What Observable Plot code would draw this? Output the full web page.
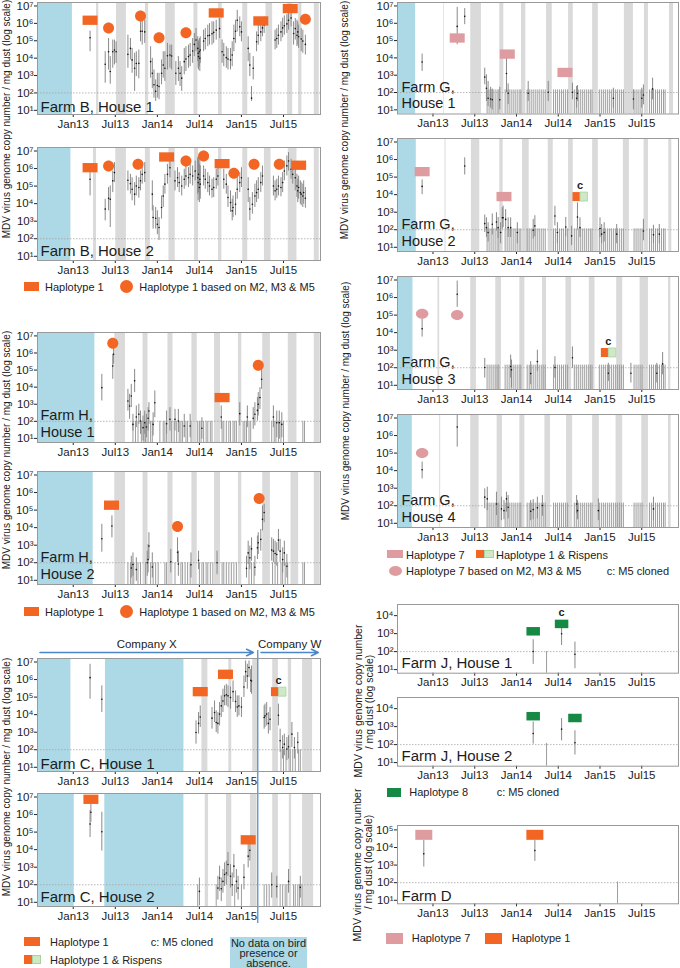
<!DOCTYPE html>
<html><head><meta charset="utf-8">
<script src="https://cdn.jsdelivr.net/npm/d3@7"></script>
<script src="https://cdn.jsdelivr.net/npm/@observablehq/plot@0.6"></script>
<style>
body{margin:0;background:#fff;}
#page{position:relative;width:680px;height:968px;overflow:hidden;font-family:'Liberation Sans',Arial,Helvetica,sans-serif;color:#222;}
.abs{position:absolute;white-space:nowrap;line-height:1;}
</style></head><body><div id="page"></div>
<script>
// ---------- shared axis data ----------
const xDomain = [2012.575, 2015.94];
const xTicks = [2013, 2013.5, 2014, 2014.5, 2015, 2015.5];
const xTickLabels = ["Jan13", "Jul13", "Jan14", "Jul14", "Jan15", "Jul15"];
const yTicks7 = [1, 2, 3, 4, 5, 6, 7];
const yTicks4 = [1, 2, 3, 4];
const yTicks5 = [1, 2, 3, 4, 5];
const detectionLimit = 2; // log10 copies / mg dust

// samples: [decimal year, log10 copies, log10 upper, log10 lower]
// ---------- Farm B ----------
const farmB1NoData = [[xDomain[0], 2012.99]];
const farmB1Absence = [[2013.277,2013.304],[2013.514,2013.632],[2013.858,2013.897],[2014.099,2014.213],[2014.435,2014.482],[2014.727,2014.771],[2015.016,2015.075],[2015.292,2015.371],[2015.549,2015.609],[2015.680,2015.719],[2015.866,2015.925]];
const farmB1Samples = [[2013.20,5.17,5.55,4.37],[2013.38,3.65,4.37,2.56],[2013.42,4.37,5.13,3.32],[2013.44,3.23,4.09,2.50],[2013.47,4.37,5.04,3.42],[2013.49,4.47,5.04,3.61],[2013.51,4.37,4.94,3.70],[2013.65,4.22,5.32,3.42],[2013.68,4.56,5.13,3.90],[2013.70,3.90,4.56,3.13],[2013.73,3.42,4.28,2.09],[2013.75,3.69,4.37,2.94],[2013.78,3.70,4.47,2.81],[2013.80,5.55,6.09,4.94],[2013.82,5.55,6.28,4.75],[2013.85,5.51,6.18,4.85],[2013.92,3.80,4.66,2.85],[2013.94,3.13,3.99,2.24],[2013.96,2.47,3.32,1.70],[2013.98,2.09,2.75,1.51],[2014.00,2.43,3.13,1.70],[2014.02,2.37,3.13,1.61],[2014.05,3.13,3.90,2.47],[2014.07,3.61,4.37,2.85],[2014.09,3.42,4.37,2.66],[2014.12,4.14,4.85,3.32],[2014.15,4.18,4.75,3.42],[2014.17,4.12,4.75,3.32],[2014.22,3.13,3.80,2.43],[2014.25,3.42,4.09,2.66],[2014.27,3.13,3.80,2.37],[2014.29,2.85,3.51,2.09],[2014.32,3.80,4.56,3.04],[2014.34,3.95,4.66,3.23],[2014.37,4.09,4.75,3.42],[2014.39,4.18,4.85,3.51],[2014.42,4.41,5.13,3.70],[2014.44,4.79,5.42,4.09],[2014.46,5.04,5.70,4.37],[2014.48,4.56,5.23,3.80],[2014.485,4.28,5.04,3.42],[2014.49,4.09,4.94,3.32],[2014.50,4.37,5.13,3.51],[2014.505,3.99,4.75,3.23],[2014.51,4.47,5.23,3.70],[2014.55,4.98,5.61,4.37],[2014.57,5.13,5.70,4.47],[2014.60,5.29,5.90,4.66],[2014.62,5.32,5.99,4.75],[2014.65,5.40,6.09,4.75],[2014.67,5.48,6.09,4.85],[2014.70,5.61,6.18,5.04],[2014.74,5.70,6.28,5.13],[2014.77,4.37,5.04,3.70],[2014.79,4.18,4.85,3.51],[2014.82,4.03,4.66,3.42],[2014.84,3.95,4.56,3.32],[2014.87,3.90,4.56,3.32],[2014.89,4.18,4.94,3.51],[2014.91,5.13,5.90,4.37],[2014.93,5.55,6.18,4.85],[2014.95,6.18,6.75,5.51],[2014.98,5.80,6.37,5.23],[2015.00,5.51,6.09,4.94],[2015.08,4.56,5.23,3.80],[2015.10,3.61,4.28,2.94],[2015.12,1.70,2.37,1.51],[2015.14,3.42,4.09,2.75],[2015.18,4.94,5.51,4.37],[2015.20,5.32,5.90,4.75],[2015.23,5.51,6.09,4.94],[2015.25,5.74,6.28,5.23],[2015.27,5.90,6.37,5.42],[2015.40,5.04,5.61,4.47],[2015.42,5.13,5.70,4.56],[2015.44,5.32,5.90,4.75],[2015.47,5.51,6.09,4.94],[2015.49,5.74,6.30,5.17],[2015.51,5.86,6.43,5.32],[2015.54,5.97,6.50,5.42],[2015.56,6.18,6.66,5.61],[2015.59,6.31,6.75,5.80],[2015.62,5.42,6.09,4.75],[2015.64,5.70,6.28,5.04],[2015.66,5.32,6.18,4.66],[2015.67,5.51,6.09,4.75],[2015.68,5.23,5.90,4.56],[2015.71,5.10,5.70,4.37],[2015.73,4.98,5.61,4.28],[2015.76,4.79,5.32,4.18]];
const farmB1Hap1 = [[2013.20,6.18],[2014.70,6.60],[2015.23,6.14],[2015.58,6.85]];
const farmB1Hap1M = [[2013.42,5.74],[2013.80,6.43],[2014.02,5.17],[2014.34,5.46],[2015.76,6.24]];

const farmB2NoData = [[xDomain[0], 2012.972]];
const farmB2Absence = [[2013.241,2013.277],[2013.506,2013.632],[2013.858,2013.917],[2014.138,2014.213],[2014.443,2014.490],[2014.727,2014.767],[2015.016,2015.075],[2015.273,2015.352],[2015.557,2015.660],[2015.866,2015.925]];
const farmB2Samples = [[2013.20,5.39,5.96,4.44],[2013.38,3.69,4.25,3.02],[2013.42,4.31,4.92,3.59],[2013.44,4.25,5.01,2.64],[2013.47,5.30,5.86,4.63],[2013.49,5.77,6.34,5.20],[2013.65,5.33,5.86,4.73],[2013.68,5.14,5.67,4.54],[2013.70,4.82,5.48,4.16],[2013.73,4.54,5.20,3.88],[2013.75,5.01,5.57,4.44],[2013.78,4.92,5.48,4.31],[2013.80,5.30,5.86,4.73],[2013.82,5.67,6.24,5.11],[2013.85,5.77,6.34,5.20],[2013.94,4.54,5.30,3.59],[2013.95,3.21,3.88,2.55],[2013.98,3.17,3.78,2.55],[2014.00,2.83,3.59,2.23],[2014.02,2.64,3.21,1.90],[2014.05,3.78,4.44,3.12],[2014.07,4.44,5.01,3.78],[2014.09,5.11,5.67,4.54],[2014.12,5.67,6.24,5.11],[2014.15,6.05,6.53,5.48],[2014.21,5.30,5.86,4.73],[2014.24,5.48,6.05,4.92],[2014.26,5.20,5.77,4.63],[2014.29,5.01,5.57,4.44],[2014.32,5.39,5.96,4.82],[2014.34,5.58,6.15,5.01],[2014.37,5.48,6.05,4.92],[2014.39,5.67,6.24,5.11],[2014.42,5.58,6.15,5.01],[2014.45,5.86,6.43,5.30],[2014.48,5.48,6.62,4.54],[2014.485,5.20,6.43,4.16],[2014.49,5.67,6.72,4.63],[2014.50,4.92,6.24,4.06],[2014.505,5.39,6.53,4.44],[2014.51,5.11,6.15,4.25],[2014.55,5.58,6.15,5.01],[2014.57,5.39,5.96,4.82],[2014.60,5.20,5.77,4.63],[2014.62,5.01,5.57,4.44],[2014.65,4.82,5.39,4.31],[2014.67,4.92,5.48,4.35],[2014.70,5.39,5.96,4.82],[2014.72,5.58,6.15,5.01],[2014.79,5.39,5.96,4.82],[2014.82,5.11,5.67,4.54],[2014.84,4.35,5.01,3.78],[2014.87,4.06,4.73,3.50],[2014.89,3.59,4.25,3.02],[2014.90,3.78,4.44,3.21],[2014.93,3.97,4.63,3.31],[2014.95,4.82,5.48,4.25],[2014.98,5.20,5.77,4.63],[2015.00,5.48,6.05,4.92],[2015.08,4.82,5.48,4.06],[2015.10,3.69,4.35,3.02],[2015.13,3.97,4.63,3.40],[2015.16,4.44,5.11,3.78],[2015.18,4.63,5.30,4.06],[2015.20,4.82,5.48,4.25],[2015.23,5.20,5.77,4.63],[2015.25,5.58,6.15,5.01],[2015.38,5.01,5.57,4.44],[2015.40,4.73,5.30,4.16],[2015.42,4.82,5.39,4.31],[2015.44,5.01,5.57,4.44],[2015.47,4.92,5.48,4.39],[2015.49,5.20,5.77,4.63],[2015.51,5.86,6.43,5.30],[2015.54,6.15,6.72,5.58],[2015.56,6.43,6.91,5.86],[2015.59,5.96,6.53,5.39],[2015.61,5.67,6.24,5.11],[2015.64,5.48,6.05,4.73],[2015.66,5.01,5.67,4.35],[2015.67,4.73,5.39,4.06],[2015.68,4.92,5.57,4.25],[2015.70,4.63,5.30,3.97],[2015.71,4.54,5.20,3.88],[2015.73,4.44,5.11,3.78],[2015.74,4.63,5.30,3.97],[2015.76,4.31,4.92,3.74]];
const farmB2Hap1 = [[2013.20,6.05],[2014.11,6.66],[2014.77,6.28],[2015.68,6.19]];
const farmB2Hap1M = [[2013.42,6.15],[2013.77,6.24],[2014.34,6.43],[2014.55,6.72],[2014.91,5.73],[2015.15,6.24],[2015.45,6.24]];

// ---------- Farm H ----------
const farmHAbsence1 = [[2013.494,2013.621],[2013.830,2013.889],[2014.126,2014.186],[2014.411,2014.474],[2014.680,2014.751],[2014.964,2015.004],[2015.253,2015.344],[2015.557,2015.660],[2015.866,2015.937]];
const farmHAbsence2 = [[2013.494,2013.621],[2013.830,2013.889],[2014.126,2014.186],[2014.411,2014.474],[2014.680,2014.751],[2014.964,2015.004],[2015.253,2015.344],[2015.589,2015.680],[2015.866,2015.937]];
const farmH1NoData = [[xDomain[0], 2013.257]];
const farmH2NoData = [[xDomain[0], 2013.237]];
const farmH1Samples = [[2013.34,3.97,4.75,3.19],[2013.47,5.24,5.93,4.46],[2013.48,5.93,6.41,5.34],[2013.65,3.19,3.87,2.60],[2013.67,2.90,3.58,2.12],[2013.69,3.48,4.16,2.80],[2013.71,1.82,2.41,1.43],[2013.73,4.37,5.04,3.68],[2013.75,2.25,2.90,1.63],[2013.78,2.41,3.00,1.82],[2013.80,2.02,2.60,1.24],[2013.83,1.63,2.31,0.85],[2013.85,1.92,2.60,1.24],[2013.87,1.67,2.41,1.04],[2013.89,2.18,2.80,1.43],[2013.90,2.60,3.09,1.82],[2013.95,1.82,2.50,1.14],[2013.97,3.09,3.78,2.21],[2014.11,1.86,2.60,1.24],[2014.15,2.12,2.80,1.43],[2014.21,2.12,2.70,1.43],[2014.25,2.02,2.70,1.34],[2014.32,1.73,2.41,1.04],[2014.39,1.73,2.41,1.04],[2014.53,1.59,2.21,0.95],[2014.76,2.25,2.90,1.53],[2014.98,2.45,3.09,1.73],[2015.07,2.25,2.90,1.63],[2015.14,2.18,2.80,1.53],[2015.16,2.41,3.09,1.73],[2015.19,2.64,3.39,2.02],[2015.20,3.00,3.68,2.31],[2015.22,3.39,3.97,2.70],[2015.24,4.46,5.14,3.87],[2015.38,2.25,2.90,1.63],[2015.42,1.92,2.60,1.04],[2015.45,1.92,2.60,0.95],[2015.48,1.82,2.50,1.04]];
const farmH1NonDetect = [2013.71,2013.74,2013.77,2013.81,2013.84,2013.86,2013.89,2013.92,2013.94,2014.03,2014.07,2014.09,2014.11,2014.17,2014.20,2014.23,2014.26,2014.28,2014.30,2014.34,2014.36,2014.40,2014.48,2014.50,2014.52,2014.55,2014.58,2014.60,2014.63,2014.65,2014.77,2014.79,2014.82,2014.85,2014.87,2014.90,2014.92,2014.94,2015.02,2015.04,2015.06,2015.09,2015.11,2015.36,2015.39,2015.41,2015.44,2015.47,2015.50,2015.73,2015.75];
const farmH1Hap1 = [[2014.77,3.39]];
const farmH1Hap1M = [[2013.47,6.57],[2015.20,5.28]];
const farmH2Samples = [[2013.34,3.37,4.19,2.60],[2013.46,4.09,4.67,3.42],[2013.69,1.70,2.37,1.13],[2013.71,1.90,2.56,1.23],[2013.75,1.61,2.28,0.94],[2013.88,2.00,2.66,1.23],[2013.89,2.18,3.04,1.42],[2013.90,2.95,3.71,2.18],[2013.94,1.76,2.56,1.13],[2014.16,2.05,2.76,1.42],[2014.24,2.60,3.42,2.00],[2014.25,1.93,2.66,1.23],[2014.40,1.88,2.56,1.13],[2014.49,2.14,2.66,1.61],[2014.71,2.00,2.66,1.32],[2015.06,1.68,2.37,1.13],[2015.08,2.56,3.23,1.90],[2015.10,2.28,2.95,1.61],[2015.12,2.79,3.42,2.09],[2015.16,1.74,2.37,1.23],[2015.19,2.85,3.52,2.18],[2015.20,3.14,3.71,2.47],[2015.23,3.33,3.90,2.66],[2015.25,4.48,5.24,3.81],[2015.27,4.86,5.34,4.28],[2015.36,2.72,3.42,2.09],[2015.38,2.66,3.33,2.00],[2015.40,2.53,3.23,1.90],[2015.42,2.47,3.14,1.80],[2015.44,3.29,3.90,2.66],[2015.46,2.66,3.33,2.00],[2015.49,2.18,2.85,1.42],[2015.51,2.56,3.23,1.80],[2015.54,1.80,2.47,1.13]];
const farmH2NonDetect = [2013.65,2013.68,2013.70,2013.72,2013.77,2013.80,2013.86,2013.92,2013.95,2013.98,2014.01,2014.09,2014.11,2014.21,2014.28,2014.30,2014.33,2014.36,2014.39,2014.50,2014.53,2014.55,2014.58,2014.60,2014.63,2014.66,2014.77,2014.79,2014.82,2014.85,2014.88,2014.91,2014.94,2015.09,2015.12,2015.15,2015.37,2015.40,2015.43,2015.47,2015.49,2015.52,2015.55,2015.73,2015.75];
const farmH2Hap1 = [[2013.455,5.28]];
const farmH2Hap1M = [[2014.24,4.06],[2015.21,5.66]];

// ---------- Farm C ----------
const companies = [{name: "Company X", from: 2012.605, to: 2015.142}, {name: "Company W", from: 2015.233, to: 2015.913}];
const companyChange = [2015.194];
const farmC1NoData = [[xDomain[0], 2012.972],[2013.383, 2014.316]];
const farmC1Absence = [[2014.530,2014.601],[2014.850,2014.885],[2015.134,2015.202],[2015.372,2015.439],[2015.557,2015.597],[2015.727,2015.846]];
const farmC1Samples = [[2013.20,6.11,6.87,4.88],[2013.34,4.88,5.64,4.12],[2014.46,2.98,3.65,2.32],[2014.49,3.50,4.12,2.89],[2014.51,3.87,4.50,3.27],[2014.65,3.80,4.41,3.17],[2014.68,4.12,4.78,3.55],[2014.70,3.55,4.22,2.98],[2014.72,3.50,4.12,2.89],[2014.74,4.03,4.69,3.36],[2014.76,4.50,5.07,3.84],[2014.78,4.78,5.45,4.12],[2014.80,5.07,5.64,4.50],[2014.82,5.13,5.73,4.50],[2014.84,5.07,5.64,4.41],[2014.87,4.98,5.58,4.31],[2014.90,5.31,5.92,4.69],[2014.93,4.75,5.35,4.12],[2014.95,4.44,5.07,3.84],[2014.97,4.50,5.07,3.93],[2015.00,4.44,4.98,3.84],[2015.03,5.58,6.20,4.98],[2015.05,6.45,7.06,5.83],[2015.07,6.20,6.87,5.45],[2015.09,6.68,7.06,6.11],[2015.11,5.96,6.58,5.26],[2015.12,5.92,6.77,5.16],[2015.27,3.84,4.50,3.17],[2015.28,3.93,4.60,3.27],[2015.30,4.03,4.69,3.36],[2015.32,3.50,4.12,2.89],[2015.34,3.74,4.41,3.08],[2015.44,3.97,4.60,3.36],[2015.46,2.51,3.17,1.85],[2015.49,2.13,2.80,1.47],[2015.51,2.32,2.89,1.66],[2015.54,2.04,2.70,1.38],[2015.56,2.17,2.80,1.47],[2015.60,2.89,3.55,2.13],[2015.63,2.13,2.70,1.47],[2015.67,2.42,2.98,1.76]];
const farmC1NonDetect = [2015.47,2015.50,2015.53,2015.58,2015.61,2015.64,2015.68,2015.70];
const farmC1Hap1 = [[2014.51,5.31],[2014.81,6.30]];
const farmC1Hap1Rispens = [[2015.44,5.31]];
const farmC2NoData = [[xDomain[0], 2013.012],[2013.375, 2014.316]];
const farmC2Absence = [[2014.569,2014.609],[2014.822,2014.885],[2015.107,2015.186],[2015.372,2015.439],[2015.569,2015.597],[2015.727,2015.858]];
const farmC2Samples = [[2013.20,5.46,6.23,4.69],[2013.21,6.13,6.71,5.56],[2013.34,5.02,6.13,3.92],[2014.50,1.62,2.38,0.80],[2014.72,1.81,2.48,1.13],[2014.74,2.38,3.06,1.62],[2014.76,1.77,2.38,1.04],[2014.78,2.19,2.87,1.52],[2014.80,2.58,3.25,1.90],[2014.82,2.67,3.35,2.00],[2014.84,3.15,3.83,2.48],[2014.87,2.48,3.15,1.81],[2014.89,2.00,2.67,1.33],[2014.91,3.06,3.73,2.38],[2014.94,2.19,2.87,1.52],[2014.96,1.81,2.48,1.13],[2015.03,2.42,3.15,1.71],[2015.08,3.63,4.31,2.96],[2015.10,3.96,4.60,3.35],[2015.36,2.00,2.67,1.23],[2015.42,1.90,2.48,1.23],[2015.56,2.19,2.87,1.52],[2015.70,1.85,2.48,1.23]];
const farmC2NonDetect = [2014.48,2014.70,2014.92,2015.00,2015.27,2015.30,2015.33,2015.46,2015.49,2015.52,2015.54,2015.62,2015.64,2015.67,2015.69,2015.72];
const farmC2Hap1 = [[2013.21,6.87],[2015.08,4.56]];

// ---------- Farm G ----------
const farmGNonDetect = [2013.648,2013.672,2013.696,2013.72,2013.744,2013.768,2013.788,2013.864,2013.888,2013.912,2013.936,2013.96,2013.984,2014.008,2014.032,2014.052,2014.128,2014.152,2014.176,2014.2,2014.224,2014.248,2014.272,2014.296,2014.32,2014.344,2014.444,2014.468,2014.492,2014.516,2014.54,2014.564,2014.588,2014.612,2014.692,2014.716,2014.74,2014.764,2014.788,2014.812,2014.836,2014.86,2014.884,2014.904,2014.992,2015.016,2015.04,2015.064,2015.088,2015.112,2015.136,2015.16,2015.184,2015.208,2015.232,2015.256,2015.28,2015.408,2015.432,2015.456,2015.48,2015.504,2015.592,2015.616,2015.64,2015.664,2015.688,2015.712,2015.736,2015.76,2015.78];
const farmGNonDetectTop = [2.15, 2.05, 2.15, 2.15];
const farmG1NoData = [[xDomain[0], 2012.792]];
const farmG1Absence = [[2013.126,2013.134],[2013.452,2013.580],[2013.800,2013.848],[2014.060,2014.112],[2014.360,2014.428],[2014.624,2014.680],[2014.912,2014.980],[2015.292,2015.400],[2015.532,2015.580],[2015.832,2015.880]];
const farmG1Samples = [[2012.87,3.76,4.22,3.22],[2013.29,5.82,6.92,4.76],[2013.38,6.40,6.85,5.92],[2013.62,2.89,3.41,2.45],[2013.64,2.25,3.02,1.48],[2013.66,1.67,2.64,1.19],[2013.69,1.63,2.30,1.10],[2013.71,1.58,2.20,1.00],[2013.80,1.58,2.30,1.00],[2013.88,3.10,4.10,2.00],[2013.90,1.96,2.50,1.30],[2014.14,1.96,2.64,1.48],[2014.38,2.02,2.64,1.48],[2014.67,2.02,2.54,1.58],[2014.72,1.67,2.35,1.10],[2014.73,1.96,2.40,1.50],[2015.16,1.67,2.25,1.10],[2015.40,1.63,2.15,1.00],[2015.50,1.67,2.25,1.10],[2015.52,1.86,2.44,1.29],[2015.63,2.21,2.83,1.58]];
const farmG1Hap7 = [[2013.29,5.15],[2013.89,4.22],[2014.58,3.16]];
const farmG2NoData = [[xDomain[0], 2012.80]];
const farmG2Absence = [[2013.144,2013.156],[2013.46,2013.56],[2013.80,2013.84],[2014.072,2014.152],[2014.38,2014.44],[2014.624,2014.68],[2014.912,2014.98],[2015.28,2015.352],[2015.528,2015.58],[2015.824,2015.86]];
const farmG2Samples = [[2012.87,4.47,4.84,4.00],[2013.38,5.63,6.10,5.12],[2013.62,2.35,2.84,1.84],[2013.64,2.12,2.68,1.56],[2013.66,1.84,2.40,1.30],[2013.71,2.31,2.90,1.70],[2013.76,2.44,2.97,1.93],[2013.78,2.12,2.70,1.50],[2013.81,1.84,2.40,1.20],[2013.83,2.68,3.25,2.03],[2013.84,2.68,3.34,2.12],[2013.87,2.59,3.15,2.03],[2013.90,2.12,2.68,1.56],[2013.93,2.12,2.68,1.56],[2014.01,1.84,2.40,1.20],[2014.20,1.97,2.59,1.47],[2014.22,2.22,2.80,1.60],[2014.46,2.78,3.34,2.22],[2014.49,1.84,2.40,1.20],[2014.59,2.16,2.70,1.60],[2014.66,1.65,2.20,1.10],[2014.73,2.72,3.53,2.03],[2014.76,2.12,2.68,1.56],[2015.00,2.07,2.68,1.56],[2015.02,1.75,2.30,1.20],[2015.05,1.84,2.40,1.30],[2015.20,1.75,2.30,1.20],[2015.52,1.93,2.59,1.37],[2015.64,1.71,2.25,1.20],[2015.71,1.75,2.30,1.20]];
const farmG2Hap7 = [[2012.87,5.31],[2013.85,3.89]];
const farmG2Hap1Rispens = [[2014.76,3.89]];
const farmG3NoData = [[xDomain[0], 2012.76]];
const farmG3Absence = [[2013.06,2013.08],[2013.452,2013.52],[2013.752,2013.82],[2014.04,2014.10],[2014.312,2014.36],[2014.592,2014.66],[2014.872,2014.94],[2015.20,2015.272],[2015.48,2015.58],[2015.82,2015.848]];
const farmG3Samples = [[2012.87,4.22,4.79,3.75],[2013.29,6.19,6.94,5.44],[2013.62,2.01,2.53,1.41],[2013.93,2.07,2.72,1.41],[2013.94,1.88,2.44,0.85],[2014.17,1.67,2.35,1.03],[2014.25,2.35,3.00,1.78],[2014.46,2.01,2.63,1.41],[2014.67,2.57,3.19,1.97],[2015.10,1.69,2.25,1.22],[2015.37,1.69,2.25,1.13],[2015.68,1.69,2.25,1.13],[2015.75,2.22,2.87,1.60]];
const farmG3Hap7M = [[2012.87,5.07],[2013.29,5.01]];
const farmG3Hap1Rispens = [[2015.10,2.87]];
const farmG4NoData = [[xDomain[0], 2012.752]];
const farmG4Absence = [[2013.08,2013.092],[2013.452,2013.552],[2013.768,2013.832],[2014.04,2014.10],[2014.34,2014.408],[2014.60,2014.672],[2014.912,2014.992],[2015.192,2015.272],[2015.50,2015.58],[2015.82,2015.852]];
const farmG4Samples = [[2012.87,4.05,4.49,3.53],[2013.29,6.49,7.15,5.34],[2013.62,2.49,2.96,1.82],[2013.65,2.39,3.06,1.72],[2013.76,2.10,2.77,1.44],[2013.82,1.82,2.49,1.15],[2013.85,1.72,2.30,1.20],[2013.88,2.39,2.77,1.63],[2013.90,1.91,2.58,1.25],[2014.17,1.69,2.30,1.15],[2014.20,1.78,2.35,1.20],[2014.25,1.88,2.49,1.25],[2014.31,2.01,2.58,1.40],[2014.72,2.10,2.58,1.53],[2014.73,1.72,2.30,1.20],[2014.98,1.72,2.39,1.15],[2015.64,1.82,2.49,1.15]];
const farmG4Hap7M = [[2012.87,5.00]];

// ---------- Farm J ----------
const farmJ1Samples = [[2014.20,2.01,2.66,1.29],[2014.54,2.99,3.45,2.34],[2014.70,1.85,2.53,1.05]];
const farmJ1NonDetect = [2014.36];
const farmJ1Hap8 = [[2014.20,3.13],[2014.54,3.54]];
const farmJ1Cloned = [[2014.54,3.54]];
const farmJ2Samples = [[2014.20,2.62,3.26,2.03],[2014.54,2.86,3.45,2.21],[2014.70,2.10,2.77,1.42]];
const farmJ2NonDetect = [2014.36];
const farmJ2Hap8 = [[2014.20,3.58],[2014.70,3.48]];

// ---------- Farm D ----------
const farmDSamples = [[2012.89,3.64,4.40,2.89],[2014.22,3.83,4.40,3.21]];
const farmDNonDetect = [2015.21];
const farmDHap7 = [[2012.89,4.72]];
const farmDHap1 = [[2014.22,4.72]];

// ---------- styling ----------
const FONT = "'Liberation Sans', Arial, Helvetica, sans-serif";
const BLUE = "#add8e6", GRAY = "#dadada", ORANGE = "#f26522", PINK = "#de9ca0", GREEN = "#168a44", RISPENS = "#cfe8c8", CBLUE = "#4a86c8";
const SUP = {1: "¹", 2: "²", 3: "³", 4: "⁴", 5: "⁵", 6: "⁶", 7: "⁷"};
const page = document.getElementById("page");
const MT = 8, MB = 20;

function rectSym(w, h, part) {
  const x0 = part === "right" ? 0 : -w / 2, x1 = part === "left" ? 0 : w / 2;
  return {draw(c) { c.moveTo(x0, -h / 2); c.lineTo(x1, -h / 2); c.lineTo(x1, h / 2); c.lineTo(x0, h / 2); c.closePath(); }};
}
function ellipseSym(w, h) {
  const rx = w / 2, ry = h / 2, kx = rx * 0.5523, ky = ry * 0.5523;
  return {draw(c) {
    c.moveTo(rx, 0);
    c.bezierCurveTo(rx, ky, kx, ry, 0, ry);
    c.bezierCurveTo(-kx, ry, -rx, ky, -rx, 0);
    c.bezierCurveTo(-rx, -ky, -kx, -ry, 0, -ry);
    c.bezierCurveTo(kx, -ry, rx, -ky, rx, 0);
    c.closePath();
  }};
}
const X = d => d[0], Y = d => d[1];

function panel(cfg) {
  const L = cfg.col === "L";
  const yDom = cfg.yDomain;
  const [rw, rh] = cfg.rectSize || [15, 9.3];
  const marks = [];
  if (cfg.noData) marks.push(Plot.rect(cfg.noData, {x1: d => d[0], x2: d => d[1], fill: BLUE}));
  if (cfg.absence) marks.push(Plot.rect(cfg.absence, {x1: d => d[0], x2: d => d[1], fill: GRAY}));
  marks.push(Plot.ruleY([detectionLimit], {stroke: "#a5a5a5", strokeWidth: 0.8, strokeDasharray: "1.5,1.5"}));
  if (cfg.nonDetect) marks.push(Plot.ruleX(cfg.nonDetect, {x: d => d, y1: yDom[0], y2: cfg.ndTop ?? detectionLimit, stroke: "#9d9d9d", strokeWidth: 1}));
  if (cfg.samples) {
    marks.push(Plot.ruleX(cfg.samples, {x: X, y1: d => d[3], y2: d => d[2], stroke: "#8a8a8a", strokeWidth: 1}));
    marks.push(Plot.dot(cfg.samples, {x: X, y: Y, r: 0.8, fill: "#111", stroke: null}));
  }
  if (cfg.companies) {
    marks.push(Plot.ruleX(companyChange, {stroke: "#5b8fcc", strokeWidth: 1.3, insetTop: -8, insetBottom: -23}));
    marks.push(Plot.arrow(companies, {x1: d => d.from, x2: d => d.to, y1: yDom[1], y2: yDom[1], dy: -6, stroke: CBLUE, strokeWidth: 1.6, headLength: 7, headAngle: 50}));
    marks.push(Plot.text(companies, {x: d => (d.from + d.to) / 2, y: yDom[1], text: d => d.name, dy: -14, fontSize: 11.5, fill: "#222"}));
  }
  if (cfg.companyLine) marks.push(Plot.ruleX(companyChange, {stroke: "#5b8fcc", strokeWidth: 1.3, insetBottom: -17}));
  const dot = (data, symbol, fill, extra = {}) => Plot.dot(data, {x: X, y: Y, symbol, fill, stroke: null, r: 5, ...extra});
  if (cfg.hap1) marks.push(dot(cfg.hap1, rectSym(rw, rh), ORANGE));
  if (cfg.hap1M) marks.push(dot(cfg.hap1M, ellipseSym(11, 11), ORANGE));
  if (cfg.hap7) marks.push(dot(cfg.hap7, rectSym(rw, rh), PINK));
  if (cfg.hap7M) marks.push(dot(cfg.hap7M, ellipseSym(12.5, 10), PINK));
  if (cfg.hap8) marks.push(dot(cfg.hap8, rectSym(13.5, 8.5), GREEN));
  if (cfg.hap1R) {
    marks.push(dot(cfg.hap1R, rectSym(15, 9, "left"), ORANGE));
    marks.push(dot(cfg.hap1R, rectSym(15, 9, "right"), RISPENS, {stroke: "#a9d39c", strokeWidth: 0.8}));
  }
  if (cfg.cloned) marks.push(Plot.text(cfg.cloned, {x: X, y: Y, text: () => "c", dy: -11, fontSize: 11, fontWeight: "bold", fill: "#222"}));
  marks.push(Plot.frame({stroke: "#999", strokeWidth: 1}));
  marks.push(Plot.text([cfg.label], {frameAnchor: "bottom-left", text: d => d, dx: L ? 3 : 4, dy: cfg.labelDy ?? -4, fontSize: cfg.label.includes("\n") ? 14.5 : 15, lineHeight: 1.12, fill: "#1c1c1c"}));

  const chart = Plot.plot({
    width: L ? 330 : 340,
    height: cfg.frameH + MT + MB,
    marginLeft: L ? 37 : 57, marginRight: L ? 10 : 2,
    marginTop: MT, marginBottom: MB,
    style: {background: "none", overflow: "visible", fontFamily: FONT, fontSize: "11.5px", color: "#222"},
    x: {type: "linear", domain: xDomain, ticks: xTicks, tickFormat: d => xTickLabels[xTicks.indexOf(d)], tickSize: 3, tickPadding: 2, label: null},
    y: {type: "linear", domain: yDom, ticks: cfg.yTicks, tickFormat: d => "10" + SUP[d], tickSize: 3, tickPadding: 1, label: null},
    marks
  });
  const div = document.createElement("div");
  div.style.position = "absolute";
  div.style.left = (L ? 0 : 340) + "px";
  div.style.top = (cfg.frameTop - MT) + "px";
  div.appendChild(chart);
  page.appendChild(div);
}

const Y7 = [0.76, 7.2];
panel({col: "L", frameTop: 1.5, frameH: 112, yDomain: Y7, yTicks: yTicks7, noData: farmB1NoData, absence: farmB1Absence, samples: farmB1Samples, hap1: farmB1Hap1, hap1M: farmB1Hap1M, label: "Farm B, House 1", labelDy: -3});
panel({col: "L", frameTop: 146.5, frameH: 113, yDomain: Y7, yTicks: yTicks7, noData: farmB2NoData, absence: farmB2Absence, samples: farmB2Samples, hap1: farmB2Hap1, hap1M: farmB2Hap1M, label: "Farm B, House 2", labelDy: -5});
panel({col: "L", frameTop: 331.5, frameH: 110, yDomain: Y7, yTicks: yTicks7, noData: farmH1NoData, absence: farmHAbsence1, nonDetect: farmH1NonDetect, samples: farmH1Samples, hap1: farmH1Hap1, hap1M: farmH1Hap1M, label: "Farm H,\nHouse 1", labelDy: -6});
panel({col: "L", frameTop: 471, frameH: 113, yDomain: Y7, yTicks: yTicks7, noData: farmH2NoData, absence: farmHAbsence2, nonDetect: farmH2NonDetect, samples: farmH2Samples, hap1: farmH2Hap1, hap1M: farmH2Hap1M, label: "Farm H,\nHouse 2", labelDy: -6});
panel({col: "L", frameTop: 657.5, frameH: 113, yDomain: Y7, yTicks: yTicks7, noData: farmC1NoData, absence: farmC1Absence, nonDetect: farmC1NonDetect, samples: farmC1Samples, hap1: farmC1Hap1, hap1R: farmC1Hap1Rispens, cloned: farmC1Hap1Rispens, companies: true, label: "Farm C, House 1", labelDy: -3});
panel({col: "L", frameTop: 793, frameH: 113, yDomain: Y7, yTicks: yTicks7, noData: farmC2NoData, absence: farmC2Absence, nonDetect: farmC2NonDetect, samples: farmC2Samples, hap1: farmC2Hap1, companyLine: true, label: "Farm C, House 2", labelDy: -5});

panel({col: "R", frameTop: 1.5, frameH: 111.5, yDomain: Y7, yTicks: yTicks7, noData: farmG1NoData, absence: farmG1Absence, nonDetect: farmGNonDetect, ndTop: farmGNonDetectTop[0], samples: farmG1Samples, hap7: farmG1Hap7, label: "Farm G,\nHouse 1", labelDy: -6});
panel({col: "R", frameTop: 138, frameH: 113, yDomain: Y7, yTicks: yTicks7, noData: farmG2NoData, absence: farmG2Absence, nonDetect: farmGNonDetect, ndTop: farmGNonDetectTop[1], samples: farmG2Samples, hap7: farmG2Hap7, hap1R: farmG2Hap1Rispens, cloned: farmG2Hap1Rispens, label: "Farm G,\nHouse 2", labelDy: -6});
panel({col: "R", frameTop: 275.5, frameH: 113, yDomain: Y7, yTicks: yTicks7, noData: farmG3NoData, absence: farmG3Absence, nonDetect: farmGNonDetect, ndTop: farmGNonDetectTop[2], samples: farmG3Samples, hap7M: farmG3Hap7M, hap1R: farmG3Hap1Rispens, cloned: farmG3Hap1Rispens, label: "Farm G,\nHouse 3", labelDy: -6});
panel({col: "R", frameTop: 414, frameH: 113, yDomain: Y7, yTicks: yTicks7, noData: farmG4NoData, absence: farmG4Absence, nonDetect: farmGNonDetect, ndTop: farmGNonDetectTop[3], samples: farmG4Samples, hap7M: farmG4Hap7M, label: "Farm G,\nHouse 4", labelDy: -6});
panel({col: "R", frameTop: 604, frameH: 68.7, yDomain: [0.8, 4.62], yTicks: yTicks4, nonDetect: farmJ1NonDetect, samples: farmJ1Samples, hap8: farmJ1Hap8, cloned: farmJ1Cloned, label: "Farm J, House 1", labelDy: -5});
panel({col: "R", frameTop: 696.7, frameH: 68.7, yDomain: [0.8, 4.62], yTicks: yTicks4, nonDetect: farmJ2NonDetect, ndTop: 2.07, samples: farmJ2Samples, hap8: farmJ2Hap8, label: "Farm J, House 2", labelDy: -5});
panel({col: "R", frameTop: 825, frameH: 78.3, yDomain: [0.8, 5.25], yTicks: yTicks5, nonDetect: farmDNonDetect, ndTop: 2.04, samples: farmDSamples, hap7: farmDHap7, hap1: farmDHap1, rectSize: [17, 10], label: "Farm D", labelDy: -3});

// ---------- html annotations: axis titles and legends ----------
function el(html, css) {
  const d = document.createElement("div");
  d.className = "abs";
  d.innerHTML = html;
  Object.assign(d.style, css);
  page.appendChild(d);
  return d;
}
function vtitle(cx, cy, str, size = 10) {
  el(str, {left: cx + "px", top: cy + "px", fontSize: size + "px", transform: "translate(-50%,-50%) rotate(-90deg)"});
}
function txt(x, y, str, size = 11) {
  el(str, {left: x + "px", top: y + "px", fontSize: size + "px", transform: "translateY(-50%)"});
}
function sw(x, y, w, h, color, round) {
  el("", {left: x + "px", top: (y - h / 2) + "px", width: w + "px", height: h + "px", background: color, borderRadius: round ? "50%" : "0"});
}
function split(x, y, w, h) {
  sw(x, y, w / 2, h, ORANGE);
  el("", {left: (x + w / 2) + "px", top: (y - h / 2) + "px", width: (w / 2 - 1) + "px", height: (h - 2) + "px", background: RISPENS, border: "1px solid #a9d39c"});
}
const yTitle = "MDV virus genome copy number / mg dust (log scale)";
vtitle(7, 119, yTitle);
vtitle(7, 449.5, yTitle);
vtitle(7, 776.5, yTitle);
vtitle(345, 120, yTitle);
vtitle(346, 401, yTitle);
vtitle(358, 701, "MDV virus genome copy number", 10.5);
vtitle(368.5, 702, "/ mg dust (log scale)", 10.5);
vtitle(357, 865, "MDV virus genome copy number", 10.5);
vtitle(368, 862, "/ mg dust (log scale)", 10.5);

for (const y of [286.5, 611.7]) {
  sw(24, y, 15, 8.7, ORANGE);
  txt(45, y, "Haplotype 1");
  sw(119.5, y, 13, 13, ORANGE, true);
  txt(139.3, y, "Haplotype 1 based on M2, M3 &amp; M5");
}
sw(24, 941.5, 16, 9.3, ORANGE);
txt(50, 941.7, "Haplotype 1");
txt(150.7, 941.7, "c: M5 cloned");
split(24, 959.5, 16, 9);
txt(50, 960, "Haplotype 1 &amp; Rispens");
el("No data on bird<br>presence or<br>absence.", {left: "230px", top: "936.7px", width: "77px", height: "34px", background: BLUE, fontSize: "11px", lineHeight: "10.3px", textAlign: "center", paddingTop: "1px"});

sw(386.7, 554, 16, 8.5, PINK);
txt(406, 555, "Haplotype 7");
split(476, 554, 16.7, 8.5);
txt(496, 555, "Haplotype 1 &amp; Rispens");
sw(388.5, 571, 13, 10, PINK, true);
txt(406, 571, "Haplotype 7 based on M2, M3 &amp; M5");
txt(606.7, 571, "c: M5 cloned");

sw(386.7, 792, 14, 9, GREEN);
txt(409.3, 792, "Haplotype 8");
txt(496.7, 792, "c: M5 cloned");

sw(386, 938.3, 17.3, 11.3, PINK);
txt(411.7, 938.3, "Haplotype 7");
sw(485, 938.3, 17.3, 11.3, ORANGE);
txt(511.7, 938.3, "Haplotype 1");
</script></body></html>
